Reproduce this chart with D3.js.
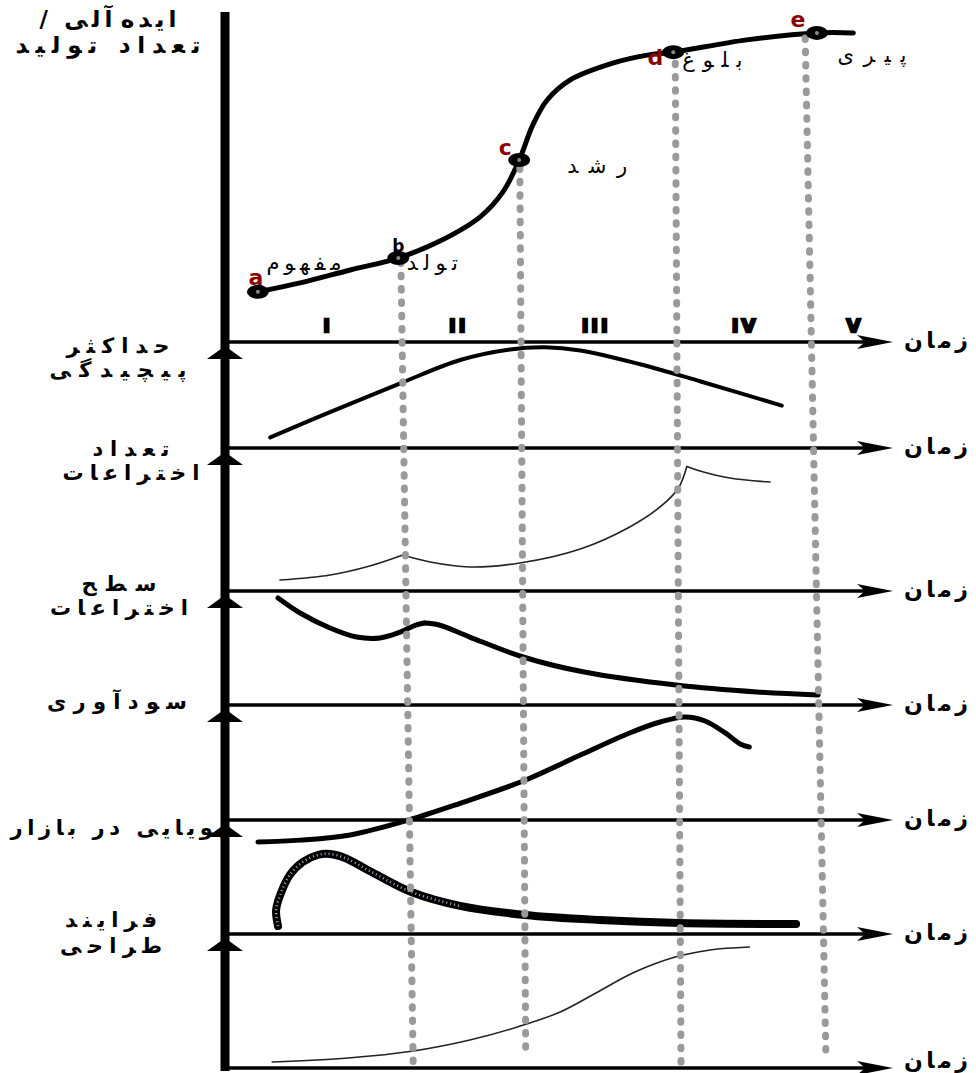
<!DOCTYPE html>
<html>
<head>
<meta charset="utf-8">
<title>Product life cycle</title>
<script src="https://cdnjs.cloudflare.com/ajax/libs/d3/7.8.5/d3.min.js"></script>
<style>
  body { margin: 0; background: #fff; }
  svg { display: block; font-family: "DejaVu Sans", sans-serif; }
</style>
</head>
<body>
<script>
// time runs 0..100 across the chart, top panel values 0..100, lower panels 0..10
const titleLines = ['ایده‌آلی /', 'تعداد تولید'];
const stageNames = ['مفهوم', 'تولد', 'رشد', 'بلوغ', 'پیری'];
const pointLetters = ['a', 'b', 'c', 'd', 'e'];
const periods = ['I', 'II', 'III', 'IV', 'V'];
const timeLabel = 'زمان';
const rowLabels = [['حداکثر', 'پیچیدگی'], ['تعداد', 'اختراعات'], ['سطح', 'اختراعات'],
                   ['سودآوری'], ['پویایی در بازار'], ['فرایند', 'طراحی']];

// top curve [time, value]
const lifeCurve = [[4.6,15.1],[11.1,17.8],[18.8,21.7],[26.2,25.3],[32.6,30.4],[38.8,37.7],[42.3,45.2],
  [44.8,54.8],[46.9,65.4],[49.1,72.9],[52.6,78.9],[59.2,84.0],[64.5,86.4],[68.5,87.3],[79.8,91.0],
  [90.6,93.1],[96.2,93.1]];
const stageIdx = [0, 3, 7, 13, 15];

// lower panels, each a list of segments (split at sharp corners)
const complexity = [[[6.5,1.0],[14.2,3.0],[26.5,6.1],[35.7,8.3],[43.4,9.3],[48.8,9.5],[54.2,9.2],
  [63.4,7.9],[72.6,6.3],[85.2,4.0]]];
const inventionCount = [
  [[8.0,0.77],[15.7,1.12],[21.8,1.75],[26.9,2.52]],
  [[26.9,2.52],[31.1,2.03],[37.2,1.68],[44.9,1.96],[54.2,2.94],[61.8,4.48],[66.8,6.0],[69.3,7.2],[70.6,8.7]],
  [[70.6,8.7],[72.6,8.39],[77.2,7.9],[83.4,7.62]]
];
const inventionLevel = [
  [[7.7,9.39],[11.1,8.07],[15.7,6.75],[19.8,5.96],[23.4,5.88],[26.5,6.4],[28.9,7.0],[30.2,7.19]],
  [[30.2,7.19],[32.5,7.02],[37.2,5.96],[45.4,4.21],[54.8,2.89],[68.9,1.75],[81.4,1.14],[90.8,0.88]]
];
const profit = [[[4.6,-1.91],[11.1,-1.75],[18.8,-1.3],[27.8,0.0],[35.7,1.45],[45.4,3.39],[54.2,5.65],
  [61.8,7.57],[66.5,8.52],[70.3,8.96],[73.4,8.61],[76.5,7.57],[78.8,6.61],[80.2,6.35]]];
const market = [[[7.7,0.70],[7.4,2.11],[8.15,3.6],[9.5,5.18],[11.5,6.32],[13.8,6.93],[15.7,7.02],
  [18.0,6.67],[21.8,5.53],[28.2,3.68],[35.7,2.46],[45.7,1.67],[57.2,1.23],[69.5,0.96],[87.4,0.88]]];
const design = [[[6.8,0.45],[18.5,0.75],[28.5,1.27],[37.2,2.09],[44.5,3.06],[51.1,4.18],[56.6,5.60],
  [62.6,7.16],[68.8,8.28],[74.2,8.81],[80.2,9.03]]];

// dotted stage guides: top end (top panel units) and bottom end (last panel units)
const guideTopT = [26.6, 44.9, 68.8, 88.8];
const guideTopV = [24.1, 52.4, 88.0, 91.6];
const guideBottomT = [28.5, 45.8, 69.7, 92.0];
const guideBottomV = [0, 1.34, 0.15, 0.6];

const W = 976, H = 1073;
const axisY = [342, 448, 591, 705, 820, 934, 1068];
const axisX = 225, lineEnd = 866, arrowTip = 893;

const svg = d3.select('body').append('svg').attr('width', W).attr('height', H);

const x = d3.scaleLinear().domain([0, 100]).range([228, 878]);
const yTop = d3.scaleLinear().domain([0, 100]).range([342, 10]);
const panelY = d3.range(6).map(i => d3.scaleLinear().domain([0, 10]).range([axisY[i + 1], axisY[i]]));

const lineFor = ys => d3.line().x(d => x(d[0])).y(d => ys(d[1])).curve(d3.curveCatmullRom.alpha(0.5));

// persian text, spread out to a given width like the original lettering
const farsi = (px, py, s, size, bold, width) => svg.append('text')
  .attr('x', px).attr('y', py).attr('text-anchor', 'middle').attr('direction', 'rtl')
  .attr('font-size', size).attr('font-weight', bold ? 'bold' : 'normal')
  .attr('textLength', width).attr('lengthAdjust', 'spacing').text(s);

// axes
svg.append('line').attr('x1', axisX).attr('x2', axisX).attr('y1', 12).attr('y2', 1071)
  .attr('stroke', '#000').attr('stroke-width', 9);
axisY.forEach((y, i) => {
  svg.append('line').attr('x1', axisX).attr('x2', lineEnd).attr('y1', y).attr('y2', y)
    .attr('stroke', '#000').attr('stroke-width', 3.5);
  svg.append('path')
    .attr('d', `M${arrowTip},${y}L${arrowTip - 36},${y - 7}L${arrowTip - 28},${y}L${arrowTip - 36},${y + 7}Z`)
    .attr('fill', '#000');
  if (i < axisY.length - 1) {
    svg.append('path')
      .attr('d', `M${axisX},${y + 4}L${axisX + 18},${y + 17}L${axisX - 18},${y + 17}Z`)
      .attr('fill', '#000');
  }
  farsi(936, y + (i === axisY.length - 1 ? 0 : 6), timeLabel, 22, true, 64);
});

// lower panel curves
const drawSegs = (segs, ys, width, color) => {
  segs.forEach(s => svg.append('path').datum(s).attr('d', lineFor(ys))
    .attr('fill', 'none').attr('stroke', color).attr('stroke-width', width)
    .attr('stroke-linecap', 'round').attr('stroke-linejoin', 'round'));
};
drawSegs(complexity, panelY[0], 4, '#000');
drawSegs(inventionCount, panelY[1], 1.6, '#222');
drawSegs(inventionLevel, panelY[2], 5, '#000');
drawSegs(profit, panelY[3], 5, '#000');
drawSegs(market, panelY[4], 8, '#000');
// striped core on the rising part of the market curve
svg.append('path').datum(market[0].filter(d => d[0] < 37)).attr('d', lineFor(panelY[4]))
  .attr('fill', 'none').attr('stroke', '#9db0c8').attr('stroke-width', 2.5).attr('stroke-dasharray', '1 3');
drawSegs(design, panelY[5], 1.6, '#222');

// top curve
svg.append('path').datum(lifeCurve).attr('d', lineFor(yTop))
  .attr('fill', 'none').attr('stroke', '#000').attr('stroke-width', 5).attr('stroke-linecap', 'round');

// dotted guides
guideTopT.forEach((t, i) => {
  svg.append('line')
    .attr('x1', x(t)).attr('y1', yTop(guideTopV[i]))
    .attr('x2', x(guideBottomT[i])).attr('y2', panelY[5](guideBottomV[i]))
    .attr('stroke', '#9a9a9a').attr('stroke-width', 7).attr('stroke-linecap', 'round')
    .attr('stroke-dasharray', '1.5 11.8');
});

// stage markers and labels
const letterOff = [[-2, -7], [0, -6], [-14, -5], [-18, 13], [-19, -6]];
const nameOff = [[46, -22], [34, 12], [78, 13], [39, 15], [55, 29]];
const nameWidth = [75, 51, 60, 60, 69];
stageIdx.forEach((k, i) => {
  const px = x(lifeCurve[k][0]), py = yTop(lifeCurve[k][1]);
  svg.append('ellipse').attr('cx', px).attr('cy', py).attr('rx', 11).attr('ry', 7).attr('fill', '#000');
  svg.append('circle').attr('cx', px).attr('cy', py).attr('r', 2).attr('fill', '#888');
  svg.append('text').attr('x', px + letterOff[i][0]).attr('y', py + letterOff[i][1])
    .attr('text-anchor', 'middle').attr('font-weight', 'bold')
    .attr('font-size', i === 1 ? 17 : 22).attr('fill', i === 1 ? '#000' : '#8b0000')
    .text(pointLetters[i]);
  farsi(px + nameOff[i][0], py + nameOff[i][1], stageNames[i], 21, false, nameWidth[i]);
});

// period numerals between stage points
const bounds = stageIdx.map(k => x(lifeCurve[k][0])).concat([arrowTip]);
periods.forEach((p, i) => {
  svg.append('text').attr('x', (bounds[i] + bounds[i + 1]) / 2).attr('y', 332)
    .attr('text-anchor', 'middle').attr('font-size', 18).attr('font-weight', 'bold')
    .attr('stroke', '#000').attr('stroke-width', 2.4).attr('letter-spacing', 3).text(p);
});

// title
const titleWidth = [137, 185];
titleLines.forEach((s, i) => farsi(108, 27 + i * 26, s, 23, true, titleWidth[i]));

// row labels: [centre x, first baseline offset, line gap, widths]
const rowLayout = [[118, 11, 24, [103, 137]], [131, 8, 24, [77, 137]], [119, 0, 24, [75, 138]],
                   [117, 4, 0, [140]], [118, 15, 0, [215]], [111, -7, 26, [92, 102]]];
rowLabels.forEach((lines, i) => {
  const [cx, dy, gap, widths] = rowLayout[i];
  lines.forEach((s, j) => farsi(cx, axisY[i] + dy + j * gap, s, 21, true, widths[j]));
});
</script>
</body>
</html>
